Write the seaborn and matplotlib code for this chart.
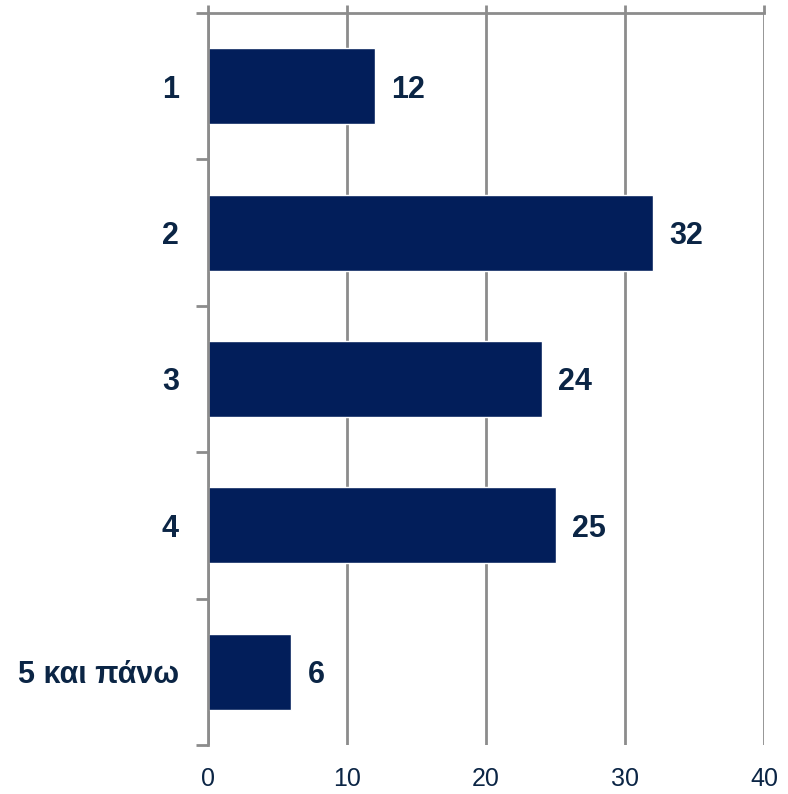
import matplotlib
matplotlib.use("Agg")
import matplotlib.pyplot as plt
import numpy as np
import pandas as pd
import seaborn as sns
from matplotlib.ticker import FixedLocator

# data
categories = ["1", "2", "3", "4", "5 και πάνω"]
values = [12, 32, 24, 25, 6]
x_ticks = [0, 10, 20, 30, 40]

bar_color = "#021E5A"
text_color = "#0B2545"
grid_color = "#8C8C8C"

sns.set_style("white")
plt.rcParams["font.family"] = ["Liberation Sans Narrow", "Liberation Sans", "DejaVu Sans"]

df = pd.DataFrame({"category": categories, "value": values})

fig = plt.figure(figsize=(7.88, 7.94), dpi=100)
ax = fig.add_axes([208 / 788, 1 - 745 / 794, (764 - 208) / 788, (745 - 13) / 794])

sns.barplot(data=df, x="value", y="category", orient="h", color=bar_color,
            width=0.52, saturation=1, ax=ax)

ax.set_xlim(0, 40)
ax.set_ylim(len(categories) - 0.5, -0.5)
ax.set_xlabel("")
ax.set_ylabel("")

# gridlines and spines
ax.set_axisbelow(True)
ax.xaxis.set_major_locator(FixedLocator(x_ticks))
ax.grid(axis="x", color=grid_color, linewidth=2)
ax.grid(axis="y", visible=False)
for side in ["bottom", "right"]:
    ax.spines[side].set_visible(False)
for side in ["top", "left"]:
    ax.spines[side].set_color(grid_color)
    ax.spines[side].set_linewidth(2)

ax.tick_params(axis="x", top=True, bottom=False, labeltop=False, labelbottom=True,
               length=6, width=2, color=grid_color, pad=10,
               labelsize=18, labelcolor=text_color)

# category boundaries as minor ticks on the left
ax.yaxis.set_minor_locator(FixedLocator(np.arange(-0.5, len(categories), 1.0)))
ax.tick_params(axis="y", which="minor", left=True, length=9, width=2, color=grid_color)
ax.tick_params(axis="y", which="major", length=0, pad=21, labelsize=22, labelcolor=text_color)
for lbl in ax.get_yticklabels():
    lbl.set_fontweight("bold")
    lbl.set_verticalalignment("center_baseline")

texts = ax.bar_label(ax.containers[0], labels=[str(v) for v in values], padding=12,
                     fontsize=22, fontweight="bold", color=text_color)
for t in texts:
    t.set_verticalalignment("center_baseline")

fig.savefig("out.png", dpi=100)
